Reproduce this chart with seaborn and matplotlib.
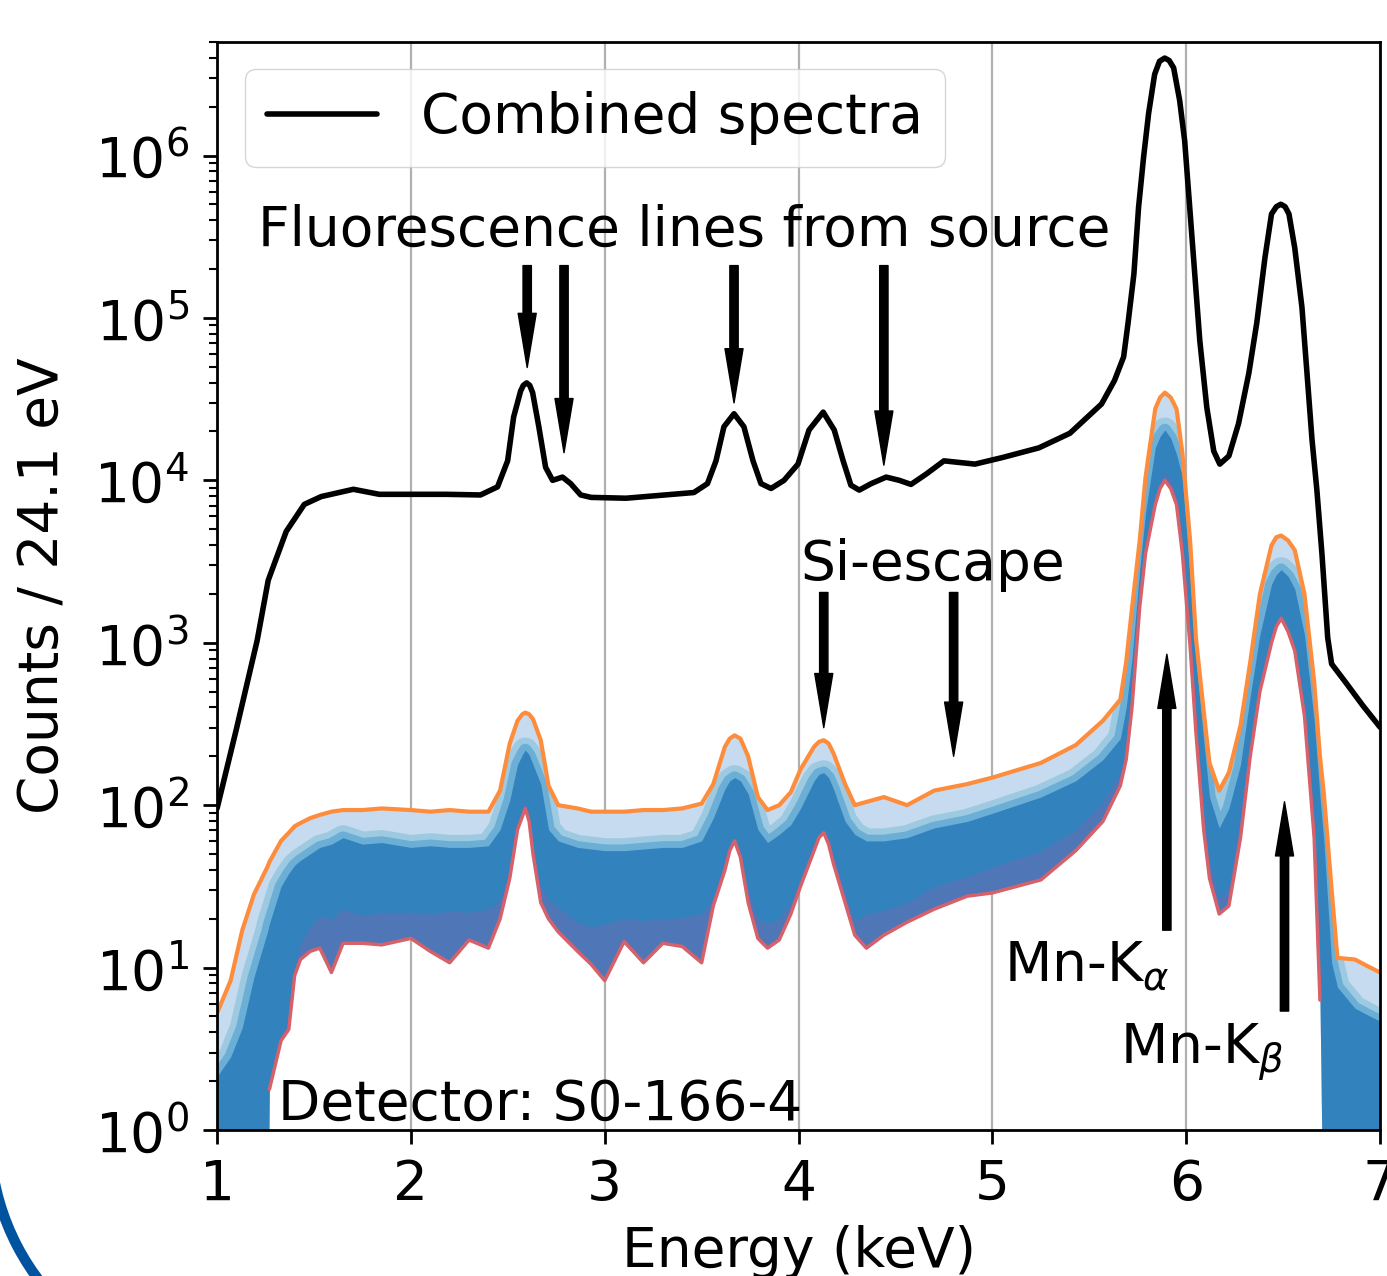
import matplotlib
matplotlib.use("Agg")
import matplotlib.pyplot as plt
from matplotlib.patches import Arc
from matplotlib.ticker import LogLocator, NullFormatter
from matplotlib.transforms import IdentityTransform
import numpy as np
import seaborn as sns

combined_energy = [1.00, 1.10, 1.207, 1.264, 1.357, 1.45, 1.537, 1.703, 1.837, 2.183,
                   2.359, 2.447, 2.499, 2.53, 2.566, 2.58, 2.597, 2.613, 2.628, 2.66,
                   2.695, 2.731, 2.782, 2.824, 2.876, 2.93, 3.11, 3.46, 3.53, 3.574,
                   3.615, 3.667, 3.718, 3.765, 3.806, 3.858, 3.925, 3.997, 4.054, 4.127,
                   4.184, 4.23, 4.27, 4.313, 4.375, 4.452, 4.52, 4.58, 4.66, 4.75,
                   4.91, 5.05, 5.24, 5.40, 5.563, 5.63, 5.677, 5.70, 5.73, 5.754,
                   5.78, 5.806, 5.837, 5.862, 5.889, 5.912, 5.935, 5.966, 5.992, 6.018,
                   6.044, 6.07, 6.106, 6.142, 6.173, 6.22, 6.27, 6.323, 6.364, 6.406,
                   6.44, 6.465, 6.488, 6.51, 6.53, 6.56, 6.597, 6.623, 6.649, 6.674,
                   6.70, 6.73, 6.75, 6.82, 6.91, 7.00]
combined_log_counts = [1.98, 2.47, 3.015, 3.385, 3.686, 3.852, 3.90, 3.945, 3.914, 3.914,
                       3.91, 3.96, 4.12, 4.39, 4.55, 4.585, 4.60, 4.585, 4.54, 4.33,
                       4.08, 4.00, 4.02, 3.98, 3.91, 3.895, 3.89, 3.925, 3.98, 4.12,
                       4.33, 4.41, 4.33, 4.12, 3.98, 3.95, 4.00, 4.10, 4.31, 4.42,
                       4.31, 4.12, 3.97, 3.94, 3.98, 4.02, 4.00, 3.975, 4.04, 4.12,
                       4.10, 4.14, 4.20, 4.29, 4.47, 4.615, 4.76, 4.97, 5.27, 5.68,
                       5.99, 6.26, 6.50, 6.58, 6.60, 6.585, 6.54, 6.34, 6.09, 5.68,
                       5.27, 4.86, 4.45, 4.18, 4.10, 4.15, 4.35, 4.66, 4.97, 5.37,
                       5.64, 5.685, 5.70, 5.685, 5.64, 5.43, 5.065, 4.66, 4.25, 3.94,
                       3.55, 3.03, 2.87, 2.76, 2.615, 2.48]

# Single-pixel spectra, drawn as bands (log10 counts, -1 = empty bin)
pixel_energy = [1.00, 1.07, 1.13, 1.19, 1.26, 1.27, 1.33, 1.37, 1.40, 1.43,
                1.48, 1.53, 1.59, 1.65, 1.75, 1.85, 2.00, 2.10, 2.20, 2.30,
                2.40, 2.46, 2.51, 2.55, 2.575, 2.59, 2.61, 2.63, 2.67, 2.71,
                2.76, 2.86, 2.93, 3.00, 3.10, 3.20, 3.30, 3.40, 3.50, 3.56,
                3.62, 3.645, 3.67, 3.70, 3.74, 3.79, 3.84, 3.90, 3.96, 4.01,
                4.08, 4.105, 4.13, 4.155, 4.18, 4.24, 4.29, 4.35, 4.44, 4.56,
                4.70, 4.87, 5.00, 5.25, 5.43, 5.57, 5.66, 5.69, 5.72, 5.76,
                5.79, 5.84, 5.865, 5.89, 5.92, 5.95, 5.98, 6.02, 6.05, 6.09,
                6.12, 6.17, 6.22, 6.28, 6.33, 6.38, 6.44, 6.465, 6.49, 6.525,
                6.56, 6.61, 6.66, 6.69, 6.71, 6.75, 6.78, 6.87, 6.95, 7.00]
pixel_max_log = [0.72, 0.92, 1.23, 1.45, 1.62, 1.65, 1.78, 1.83, 1.87, 1.89,
                 1.92, 1.94, 1.96, 1.97, 1.97, 1.98, 1.97, 1.96, 1.97, 1.96,
                 1.96, 2.09, 2.38, 2.52, 2.56, 2.57, 2.56, 2.53, 2.40, 2.12,
                 2.00, 1.98, 1.96, 1.96, 1.96, 1.97, 1.97, 1.98, 2.01, 2.13,
                 2.36, 2.41, 2.43, 2.41, 2.30, 2.05, 1.97, 2.00, 2.08, 2.22,
                 2.36, 2.39, 2.40, 2.38, 2.32, 2.13, 2.00, 2.02, 2.05, 2.00,
                 2.09, 2.13, 2.17, 2.26, 2.37, 2.52, 2.65, 2.88, 3.21, 3.63,
                 4.02, 4.44, 4.51, 4.54, 4.51, 4.44, 4.17, 3.63, 3.03, 2.58,
                 2.26, 2.09, 2.20, 2.49, 2.88, 3.30, 3.60, 3.65, 3.66, 3.63,
                 3.57, 3.30, 2.76, 2.30, 2.07, 1.48, 1.06, 1.05, 1.00, 0.97]
pixel_core_top_log = [0.33, 0.45, 0.63, 0.94, 1.22, 1.27, 1.50, 1.58, 1.63, 1.66,
                      1.70, 1.74, 1.76, 1.80, 1.76, 1.77, 1.74, 1.75, 1.74, 1.74,
                      1.75, 1.85, 2.03, 2.25, 2.31, 2.34, 2.31, 2.25, 2.13, 1.85,
                      1.78, 1.74, 1.73, 1.72, 1.72, 1.73, 1.74, 1.74, 1.78, 1.92,
                      2.10, 2.15, 2.17, 2.15, 2.07, 1.85, 1.77, 1.82, 1.88, 1.98,
                      2.15, 2.19, 2.20, 2.17, 2.10, 1.90, 1.82, 1.78, 1.78, 1.80,
                      1.86, 1.90, 1.95, 2.05, 2.15, 2.28, 2.41, 2.60, 2.90, 3.45,
                      3.80, 4.20, 4.27, 4.31, 4.26, 4.16, 4.02, 3.40, 2.90, 2.40,
                      2.05, 1.86, 1.98, 2.25, 2.67, 3.05, 3.36, 3.42, 3.45, 3.41,
                      3.33, 3.05, 2.52, 2.05, 1.78, 1.03, 0.88, 0.75, 0.70, 0.67]
pixel_core_bottom_log = [-1, -1, -1, -1, -1, 0.30, 0.60, 0.66, 1.00, 1.15,
                         1.25, 1.32, 1.30, 1.36, 1.32, 1.34, 1.34, 1.33, 1.35, 1.34,
                         1.36, 1.42, 1.60, 1.89, 1.97, 2.03, 1.95, 1.75, 1.50, 1.42,
                         1.37, 1.28, 1.25, 1.27, 1.30, 1.29, 1.30, 1.31, 1.33, 1.43,
                         1.66, 1.75, 1.80, 1.72, 1.48, 1.31, 1.27, 1.30, 1.40, 1.55,
                         1.75, 1.82, 1.85, 1.79, 1.68, 1.46, 1.29, 1.33, 1.35, 1.40,
                         1.50, 1.56, 1.62, 1.72, 1.85, 2.02, 2.20, 2.34, 2.68, 3.28,
                         3.60, 3.90, 4.00, 4.05, 4.00, 3.90, 3.60, 3.05, 2.52, 1.95,
                         1.65, 1.42, 1.50, 1.93, 2.35, 2.75, 3.05, 3.13, 3.18, 3.10,
                         2.98, 2.60, 1.90, 0.88, -1, -1, -1, -1, -1, -1]
pixel_min_log = [-1, -1, -1, -1, -1, 0.25, 0.55, 0.62, 0.95, 1.05,
                 1.10, 1.12, 0.97, 1.15, 1.15, 1.14, 1.18, 1.10, 1.03, 1.17,
                 1.12, 1.30, 1.55, 1.85, 1.93, 1.98, 1.90, 1.70, 1.40, 1.30,
                 1.22, 1.10, 1.02, 0.92, 1.16, 1.03, 1.15, 1.13, 1.03, 1.38,
                 1.60, 1.72, 1.78, 1.68, 1.40, 1.18, 1.12, 1.17, 1.33, 1.50,
                 1.72, 1.80, 1.83, 1.76, 1.64, 1.40, 1.20, 1.12, 1.20, 1.28,
                 1.36, 1.44, 1.46, 1.54, 1.72, 1.90, 2.12, 2.28, 2.60, 3.22,
                 3.55, 3.85, 3.95, 4.00, 3.95, 3.85, 3.55, 2.98, 2.45, 1.85,
                 1.55, 1.33, 1.38, 1.80, 2.30, 2.70, 3.00, 3.10, 3.15, 3.07,
                 2.95, 2.55, 1.80, 0.80, -1, -1, -1, -1, -1, -1]

# Annotation arrows: (energy, arrow tip, arrow tail) in counts
fluor_arrows = [(2.60, 4.95e4, 2.1e5), (2.79, 1.48e4, 2.1e5),
                (3.667, 3.0e4, 2.1e5), (4.44, 1.24e4, 2.1e5)]
escape_arrows = [(4.13, 3.0e2, 2.04e3), (4.80, 2.0e2, 2.04e3)]
mn_arrows = [(5.90, 8.5e2, 17.0), (6.507, 1.05e2, 5.4)]

FS = 39.6

sns.set_style("ticks")
plt.rcParams.update({
    "font.family": ["DejaVu Sans"],
    "mathtext.fontset": "dejavusans",
    "text.color": "black",
    "axes.labelcolor": "black",
    "axes.edgecolor": "black",
    "axes.linewidth": 2.0,
    "xtick.color": "black",
    "ytick.color": "black",
})

fig = plt.figure(figsize=(13.87, 12.76), dpi=100)
ax = fig.add_axes([0.1565, 0.1144, 0.8385, 0.8527])
ax.set_yscale("log")

E = np.array(pixel_energy)
p_max = 10.0 ** np.array(pixel_max_log)
c_top = 10.0 ** np.array(pixel_core_top_log)
c_bot = 10.0 ** np.array(pixel_core_bottom_log)
p_min_log = np.array(pixel_min_log, dtype=float)
p_min = 10.0 ** p_min_log

# whole envelope in the palest blue, graded blues towards the core
env = ax.fill_between(E, p_min, p_max, color="#c6dbef", lw=0, zorder=1)
clip = env.get_paths()[0]
for col, lw in [("#9ecae1", 18), ("#6baed6", 9)]:
    ln, = ax.plot(E, c_top, color=col, lw=lw, zorder=1.1, solid_joinstyle="round")
    ln.set_clip_path(clip, env.get_transform())
ax.fill_between(E, p_min, c_top, color="#3182bd", lw=0, zorder=1.2)
ax.fill_between(E, p_min, c_bot, color="#756bb1", alpha=0.45, lw=0, zorder=1.3)
red_edge = np.where(p_min_log < 0, np.nan, p_min)
ax.plot(E, red_edge, color="#d6616b", lw=2.5, zorder=1.4)
ax.plot(E, p_max, color="#fd8d3c", lw=3, zorder=1.5)

# combined spectrum
comb_counts = 10.0 ** np.array(combined_log_counts)
sns.lineplot(x=combined_energy, y=comb_counts, color="black", linewidth=4,
             label="Combined spectra", ax=ax, zorder=3)

ax.set_xlim(1, 7)
ax.set_ylim(1, 5e6)
ax.set_xticks(range(1, 8))
ax.yaxis.set_major_locator(LogLocator(base=10, numticks=20))
ax.yaxis.set_minor_locator(LogLocator(base=10, subs=np.arange(2, 10), numticks=100))
ax.yaxis.set_minor_formatter(NullFormatter())
ax.tick_params(which="major", length=10, width=2, pad=10, labelsize=FS)
ax.tick_params(which="minor", length=6, width=1.5)
ax.grid(True, axis="x", color="#b0b0b0", lw=1.6)
ax.grid(False, axis="y")
ax.set_axisbelow(True)

ax.set_xlabel("Energy (keV)", fontsize=FS)
ax.set_ylabel("Counts / 24.1 eV", fontsize=FS)
ax.xaxis.set_label_coords(0.5, -0.087)
ax.yaxis.set_label_coords(-0.126, 0.5)

ax.legend(loc="upper left", fontsize=FS)

arrow_kw = dict(facecolor="black", edgecolor="black", width=6, headwidth=13,
                headlength=39, shrink=0)
for e, tip, tail in fluor_arrows + escape_arrows + mn_arrows:
    ax.annotate("", xy=(e, tip), xytext=(e, tail), arrowprops=arrow_kw, zorder=4)

ax.text(1.212, 10 ** 5.446, "Fluorescence lines from source", fontsize=FS, va="baseline")
ax.text(4.008, 10 ** 3.385, "Si-escape", fontsize=FS, va="baseline")
ax.text(5.06, 10 ** 0.917, r"Mn-K$_\alpha$", fontsize=FS, va="baseline")
ax.text(5.66, 10 ** 0.406, r"Mn-K$_\beta$", fontsize=FS, va="baseline")
ax.text(1.315, 10 ** 0.0615, "Detector: S0-166-4", fontsize=FS, va="baseline")

# bit of a logo ring peeking in at the lower left corner
ring = Arc((230, 141), 480, 480, theta1=185, theta2=230, color="#00549f",
           lw=7.5, transform=IdentityTransform())
fig.add_artist(ring)

fig.savefig("out.png", dpi=100)
plt.close(fig)
